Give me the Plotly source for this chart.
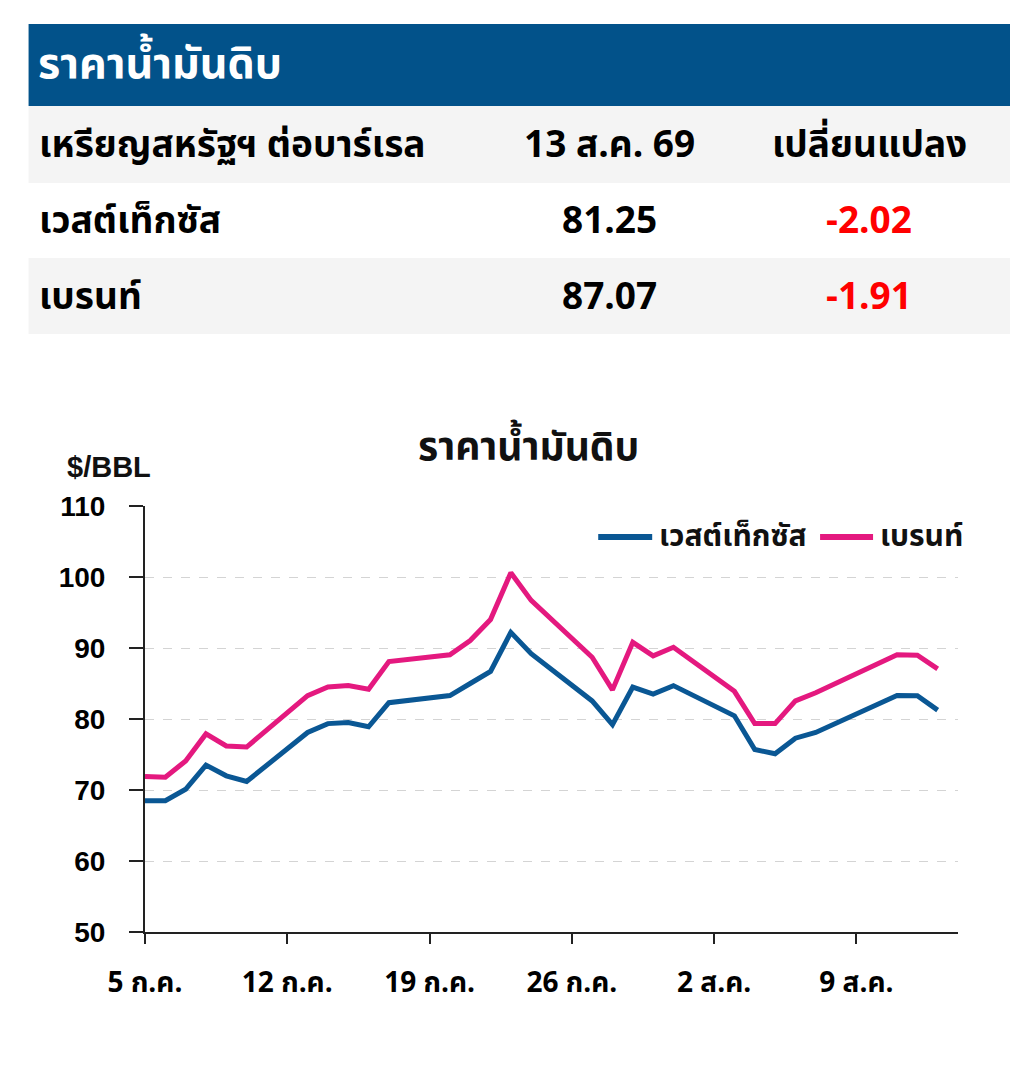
import plotly.graph_objects as go

# the page puts the figure 8px in from the top-left corner
OFF = 8
W, H = 1018 - 2 * OFF, 1068 - 2 * OFF

# --- data ---
dates = [
    "2026-07-05", "2026-07-06", "2026-07-07", "2026-07-08", "2026-07-09", "2026-07-10",
    "2026-07-13", "2026-07-14", "2026-07-15", "2026-07-16", "2026-07-17",
    "2026-07-20", "2026-07-21", "2026-07-22", "2026-07-23", "2026-07-24",
    "2026-07-27", "2026-07-28", "2026-07-29", "2026-07-30", "2026-07-31",
    "2026-08-03", "2026-08-04", "2026-08-05", "2026-08-06", "2026-08-07",
    "2026-08-10", "2026-08-11", "2026-08-12", "2026-08-13",
]
wti = [68.5, 68.5, 70.1, 73.5, 72.0, 71.2,
       78.1, 79.35, 79.5, 78.9, 82.3,
       83.3, 85.0, 86.7, 92.2, 89.2,
       82.55, 79.2, 84.5, 83.5, 84.7,
       80.45, 75.7, 75.1, 77.3, 78.1,
       82.0, 83.3, 83.27, 81.25]
brent = [71.9, 71.8, 74.1, 77.9, 76.2, 76.05,
         83.3, 84.5, 84.7, 84.2, 88.1,
         89.05, 91.05, 94.0, 100.6, 96.7,
         88.7, 84.1, 90.8, 88.9, 90.1,
         83.9, 79.35, 79.35, 82.55, 83.7,
         87.7, 89.05, 88.98, 87.07]

tick_dates = ["2026-07-05", "2026-07-12", "2026-07-19", "2026-07-26", "2026-08-02", "2026-08-09"]
tick_labels = ["5 ก.ค.", "12 ก.ค.", "19 ก.ค.", "26 ก.ค.", "2 ส.ค.", "9 ส.ค."]

table_title = "ราคาน้ำมันดิบ"
table_head = ["เหรียญสหรัฐฯ ต่อบาร์เรล", "13 ส.ค. 69", "เปลี่ยนแปลง"]
table_names = ["เวสต์เท็กซัส", "เบรนท์"]
table_last = ["81.25", "87.07"]
table_change = ["-2.02", "-1.91"]

BLUE = "#0a5794"
PINK = "#e4197f"
HEAD = "#02528a"
FONT = "Noto Sans Thai, Noto Sans, Liberation Sans, sans-serif"
NUMFONT = "Liberation Sans, Arial, sans-serif"

# plot area in page pixels
L, R, T, B = 144.5, 958, 506, 932


def px(x):
    return (x - L) / (R - L)


def py(y):
    return (B - y) / (B - T)


fig = go.Figure()
fig.add_trace(go.Scatter(x=dates, y=wti, mode="lines", name="เวสต์เท็กซัส",
                         line=dict(color=BLUE, width=5)))
fig.add_trace(go.Scatter(x=dates, y=brent, mode="lines", name="เบรนท์",
                         line=dict(color=PINK, width=5)))

shapes = []
annotations = []

# table backgrounds
rows = [(24, 106, HEAD), (106, 183, "#f4f4f4"), (183, 258, "#ffffff"), (258, 334, "#f4f4f4")]
for y0, y1, c in rows:
    shapes.append(dict(type="rect", xref="paper", yref="paper", x0=px(28), x1=px(1030),
                       y0=py(y1), y1=py(y0), fillcolor=c, line=dict(width=0), layer="below"))

annotations.append(dict(text="<b>" + table_title + "</b>", xref="paper", yref="paper",
                        x=px(35), y=py(65), xanchor="left", yanchor="middle", showarrow=False,
                        font=dict(family=FONT, size=43, color="white")))
col_x = [(px(36), "left"), (px(609), "center"), (px(869), "center")]
for (x, anc), t in zip(col_x, table_head):
    annotations.append(dict(text="<b>" + t + "</b>", xref="paper", yref="paper", x=x, y=py(146),
                            xanchor=anc, yanchor="middle", showarrow=False,
                            font=dict(family=FONT, size=37, color="black")))
for i, (n, v, c) in enumerate(zip(table_names, table_last, table_change)):
    yy = py(222 + 76 * i)
    for (x, anc), t, col in zip(col_x, [n, v, c], ["black", "black", "#ff0000"]):
        annotations.append(dict(text="<b>" + t + "</b>", xref="paper", yref="paper", x=x, y=yy,
                                xanchor=anc, yanchor="middle", showarrow=False,
                                font=dict(family=FONT, size=37, color=col)))

# chart title and unit
annotations.append(dict(text="<b>ราคาน้ำมันดิบ</b>", xref="paper", yref="paper", x=px(528), y=py(448),
                        xanchor="center", yanchor="middle", showarrow=False,
                        font=dict(family=FONT, size=39, color="#111111")))
annotations.append(dict(text="<b>$/BBL</b>", xref="paper", yref="paper", x=px(64), y=py(467),
                        xanchor="left", yanchor="middle", showarrow=False,
                        font=dict(family=NUMFONT, size=29, color="#111111")))

# legend drawn by hand so the line samples match the original length
legend_items = [("เวสต์เท็กซัส", BLUE, 598, 652), ("เบรนท์", PINK, 820, 873)]
for name, col, x0, x1 in legend_items:
    shapes.append(dict(type="line", xref="paper", yref="paper", x0=px(x0), x1=px(x1),
                       y0=py(537), y1=py(537), line=dict(color=col, width=6)))
    annotations.append(dict(text="<b>" + name + "</b>", xref="paper", yref="paper",
                            x=px(x1 + 5), y=py(537), xanchor="left", yanchor="middle",
                            showarrow=False, font=dict(family=FONT, size=30, color="#111111")))

fig.update_layout(
    width=W, height=H,
    margin=dict(l=L - OFF, r=W - (R - OFF), t=T - OFF, b=H - (B - OFF), pad=0),
    paper_bgcolor="white", plot_bgcolor="white",
    shapes=shapes, annotations=annotations,
    showlegend=False,
    xaxis=dict(range=["2026-07-05", "2026-08-14"], tickvals=tick_dates, ticktext=tick_labels,
               showgrid=False, showline=True, linecolor="#222222", linewidth=2,
               ticks="outside", ticklen=10, tickwidth=1.5, tickcolor="#222222",
               tickfont=dict(family=FONT, size=28, color="black", weight="bold"),
               ticklabelstandoff=14, zeroline=False),
    yaxis=dict(range=[50, 110], dtick=10, showgrid=True, gridcolor="#d4d4d4", griddash="dash",
               gridwidth=1.3, showline=True, linecolor="#222222", linewidth=2,
               ticks="outside", ticklen=14, tickwidth=1.5, tickcolor="#222222",
               tickfont=dict(family=NUMFONT, size=28, color="black", weight="bold"),
               ticklabelstandoff=18, zeroline=False),
)

fig.write_html("out.html")
